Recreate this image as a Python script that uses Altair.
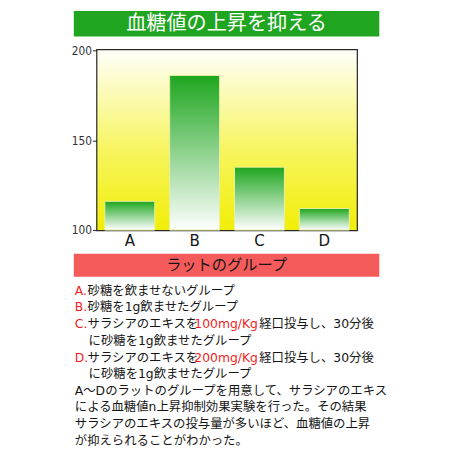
import altair as alt
import pandas as pd

# ---- data ----
groups = ["A", "B", "C", "D"]
glucose = [116, 186, 135, 112]
y_ticks = [100, 150, 200]

title_text = "血糖値の上昇を抑える"
legend_title = "ラットのグループ"
line_A = ["A.", "砂糖を飲ませないグループ"]
line_B = ["B.", "砂糖を1g飲ませたグループ"]
line_C = ["C.", "サラシアのエキスを", "100mg/Kg", "経口投与し、30分後"]
line_C2 = "に砂糖を1g飲ませたグループ"
line_D = ["D.", "サラシアのエキスを", "200mg/Kg", "経口投与し、30分後"]
line_D2 = "に砂糖を1g飲ませたグループ"
summary = [
    "A～Dのラットのグループを用意して、サラシアのエキス",
    "による血糖値n上昇抑制効果実験を行った。その結果",
    "サラシアのエキスの投与量が多いほど、血糖値の上昇",
    "が抑えられることがわかった。",
]

W, H = 264, 183
JP = "DejaVu Sans, Noto Sans CJK JP, sans-serif"
JPT = "Noto Sans CJK JP"
RED = "#f21d1d"
BLACK = "#151515"
FS = 12.6

df = pd.DataFrame({"g": groups, "v": glucose})
one = pd.DataFrame({"k": [0]})

bg = alt.Chart(one).mark_rect(
    fill=alt.Gradient(
        gradient="linear",
        stops=[alt.GradientStop(color="#fffffa", offset=0),
               alt.GradientStop(color="#f7f560", offset=0.55),
               alt.GradientStop(color="#f1ee08", offset=1)],
        x1=0, x2=0, y1=0, y2=1),
).encode(x=alt.value(0), x2=alt.value(W), y=alt.value(0), y2=alt.value(H))

bars = alt.Chart(df).mark_bar(
    fill=alt.Gradient(
        gradient="linear",
        stops=[alt.GradientStop(color="#1ea61e", offset=0),
               alt.GradientStop(color="#ffffff", offset=1)],
        x1=0, x2=0, y1=0, y2=1),
    stroke="#e8f0a0", strokeWidth=1,
).encode(
    x=alt.X("g:N", sort=groups, title=None,
            scale=alt.Scale(paddingInner=0.23, paddingOuter=0.115),
            axis=alt.Axis(labelAngle=0, ticks=False, domain=False, labelFontSize=17,
                          labelFont="Liberation Sans Narrow, DejaVu Sans Condensed, sans-serif",
                          labelColor=BLACK, labelPadding=3)),
    y=alt.Y("v:Q", title=None,
            scale=alt.Scale(domain=[100, 200], nice=False, zero=False),
            axis=alt.Axis(values=y_ticks, grid=False, domain=False, tickSize=5,
                          tickColor="#222", labelFontSize=12, labelColor="#333",
                          labelFont="Liberation Sans Narrow, DejaVu Sans Condensed, sans-serif",
                          labelPadding=1)),
    y2=alt.datum(100),
)

layers = [bg, bars]

def rect(x0, x1, y0, y1, color):
    return alt.Chart(one).mark_rect(fill=color).encode(
        x=alt.value(x0), x2=alt.value(x1), y=alt.value(y0), y2=alt.value(y1))

def txt(s, x, y, color=BLACK, size=FS, align="left", font=JP):
    return alt.Chart(pd.DataFrame({"t": [s]})).mark_text(
        align=align, baseline="middle", font=font, fontSize=size, color=color
    ).encode(text="t:N", x=alt.value(x), y=alt.value(y))

# title bar
layers.append(rect(-24, 287, -40, -14, "#1fa51f"))
layers.append(txt(title_text, 131.5, -27, color="white", size=20.5, align="center", font=JPT))
# legend header bar
layers.append(rect(-24, 287, 207, 230.5, "#f65b5b"))
layers.append(txt(legend_title, 131.5, 219, size=15.5, align="center", font=JPT))

ys = [244.7, 261.5, 279, 296, 313, 330, 346.5, 363.5, 380.5, 398]
X0, X1, XN, XK = -23, -10, 98.7, 164.7

layers += [txt(line_A[0], X0, ys[0], RED), txt(line_A[1], X1, ys[0])]
layers += [txt(line_B[0], X0, ys[1], RED), txt(line_B[1], X1, ys[1])]
for line, y in [(line_C, ys[2]), (line_D, ys[4])]:
    layers += [txt(line[0], X0, y, RED), txt(line[1], X1, y),
               txt(line[2], XN, y, RED), txt(line[3], XK, y)]
layers.append(txt(line_C2, -9, ys[3]))
layers.append(txt(line_D2, -9, ys[5]))
for s, y in zip(summary, ys[6:]):
    layers.append(txt(s, X0, y))

chart = alt.layer(*layers).properties(
    width=W, height=H,
    padding={"left": 91, "top": 39, "right": 97, "bottom": 230},
    autosize=alt.AutoSizeParams(type="none"),
).configure_view(stroke="#2a2a2a", strokeWidth=2.5)

chart.save("out.html", embed_options={"renderer": "svg", "actions": False})
